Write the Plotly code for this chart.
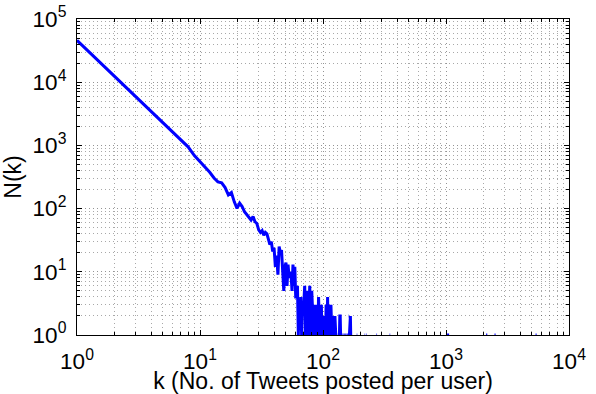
import plotly.graph_objects as go

# ---- data -------------------------------------------------------------
# N(k) for k = 1 .. 62 (smooth head of the distribution)
k_head = list(range(1, 63))
n_head = [46000, 12600, 5900, 3400, 2250, 1600, 1200, 950, 690, 550,
          460, 375, 305, 265, 255, 215, 165, 180, 128, 101,
          122, 108, 89, 80, 70, 66, 75, 62, 58, 46,
          42, 45, 38, 42, 40, 33, 27, 30, 21, 24,
          12, 18, 9, 25, 20, 22, 8, 5, 12, 14,
          6, 13, 8, 10, 9, 5, 13, 6, 12, 4,
          4, 6]

# noisy region k = 63 .. 170 (None = zero count, not drawn on log axis)
k_noisy = list(range(63, 171))
n_noisy = [1, 3, 2, 4, 1, 3, 2, 3, 6, 1, 3, 2, 5, 1, 3, 6, 2, 1,
           5, 3, 2, 1, 2, 3, 1, 3, 1, 2, 1, 4, 2, 1, 3, 1, 3, 1, 2, 1,
           2, 1, 1, 2, 1, 3, 1, 1, 4, 1, 3, 1, 2, 1, 1, 3, 1, 1, 1, 2,
           1, 1, 2, 1, 2, 1, 1, 1, 1, 1, 1, None, 1, 1, 1, 1, 2, 2, 1, 1,
           1, 1, None, 1, 1, 1, 1, None, 1, 1, 1, 1, 1, None, 1, 1, 1, 1, 1, None,
           2, 2, None, 1, 2, 2, 2, 1, 1, None]

# sparse tail: isolated single-user counts
k_tail = [188, 190, 191, 218, 220, 221, 224, 226, 227, 272, 275, 276,
          348, 352, 353, 1020, 1060, 1061, 2120, 2165, 2166, 2480, 2530, 2531,
          5350, 5450]
n_tail = [1, 1, None, 1, 1, None, 1, 1, None, 1, 1, None,
          1, 1, None, 1, 1, None, 1, 1, None, 1, 1, None,
          1, 1]

# decade labels for the small decades (larger ones are rendered as powers already)
label_alias = {"1": "10<sup>0</sup>", "10": "10<sup>1</sup>"}

x_title = "k (No. of Tweets posted per user)"
y_title = "N(k)"

# ---- figure -----------------------------------------------------------
k_all = k_head + k_noisy + k_tail
n_all = n_head + n_noisy + n_tail

fig = go.Figure()
fig.add_trace(go.Scatter(
    x=k_all, y=n_all, mode="lines",
    line=dict(color="#0000FF", width=3),
    connectgaps=False, hoverinfo="skip", showlegend=False,
))

font_family = "Liberation Sans, Arial, sans-serif"
grid_common = dict(
    type="log",
    tickmode="linear", tick0=0, dtick=1, exponentformat="power",
    labelalias=label_alias,
    showline=True, linecolor="black", linewidth=1, mirror="allticks",
    ticks="inside", ticklen=5, tickcolor="black", tickwidth=1,
    showgrid=True, gridcolor="rgba(0,0,0,0.42)", gridwidth=1, griddash="1px,3px",
    zeroline=False,
    tickfont=dict(family=font_family, size=18, color="black"),
    minor=dict(dtick="D1", ticks="inside", ticklen=3, tickcolor="black", showgrid=True,
               gridcolor="rgba(0,0,0,0.34)", gridwidth=1, griddash="1px,3px"),
)

fig.update_xaxes(**grid_common, range=[0, 4], ticklabelstandoff=7,
                 title=dict(text=x_title, font=dict(family=font_family, size=23, color="black"),
                            standoff=2))
fig.update_yaxes(**grid_common, range=[0, 5], ticklabelstandoff=6,
                 title=dict(text=y_title, font=dict(family=font_family, size=23, color="black"),
                            standoff=6))

fig.update_layout(
    width=596, height=394,
    margin=dict(l=77, r=27, t=19, b=59, autoexpand=False),
    paper_bgcolor="white", plot_bgcolor="white",
    font=dict(family=font_family, color="black"),
)

fig.write_html("out.html")
